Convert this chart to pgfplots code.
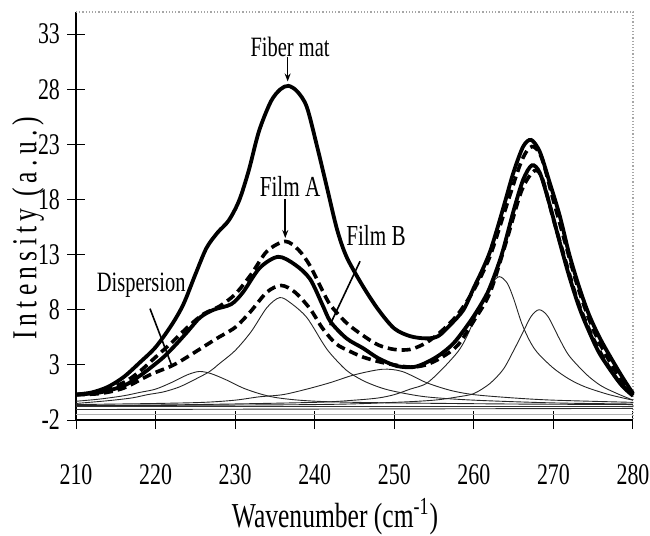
\documentclass[border=0pt]{standalone}
\usepackage{fontspec}
\setmainfont[FakeStretch=0.73]{Liberation Serif}
\usepackage{pgfplots}
\pgfplotsset{compat=1.18}
\usetikzlibrary{arrows.meta}

\begin{document}
\begin{tikzpicture}
\begin{axis}[
  scale only axis, width=278.5pt, height=204pt,
  xmin=210, xmax=280, ymin=-2, ymax=35,
  xtick={210,220,...,280}, ytick={-2,3,...,33},
  axis x line*=bottom, axis y line*=left,
  axis line style={black, line width=0.65pt},
  tick align=center, major tick length=9pt,
  tick style={black, line width=0.5pt},
  clip=false,
  /pgf/number format/assume math mode=true,
  ticklabel style={font=\fontsize{15}{15}\selectfont},
  xticklabel style={yshift=-14pt},
  xlabel={Wavenumber (cm\textsuperscript{-1})},
  xlabel style={at={([yshift=-53.5pt]axis description cs:0.465,0)}, anchor=base,
                font=\fontsize{17.5}{17.5}\selectfont},
  ylabel={Intensity (a.u.)},
  ylabel style={at={([xshift=-24pt]axis description cs:0,0.47)}, anchor=center,
                font=\fontsize{17.5}{17.5}\selectfont\addfontfeature{LetterSpace=15}},
]
% frame top and right
\draw[gray!70, densely dotted, line width=0.6pt] (rel axis cs:0,1) -- (rel axis cs:1,1) -- (rel axis cs:1,0);

% baselines
\addplot[black!80, line width=0.45pt] coordinates {(210,-0.8) (280,-0.8)};
\addplot[black!80, line width=0.45pt] coordinates {(210,-1.05) (280,-0.95)};
\addplot[gray!60, line width=0.6pt] coordinates {(210,-1.5) (280,-1.5)};

% fitted components
\addplot[black!85, line width=0.45pt, smooth] coordinates {
 (210,-0.3) (213,-0.1) (216,0.2) (218,0.5) (220,0.8) (222,1.4) (224,2.1)
 (225.5,2.4) (227,2.2) (229,1.6) (231,0.9) (233,0.4) (235,0.05) (238,-0.2)
 (242,-0.35) (250,-0.45) (265,-0.55) (280,-0.6)};
\addplot[black!85, line width=0.45pt, smooth] coordinates {
 (210,-0.5) (214,-0.25) (217,0.0) (219,0.3) (221,0.55) (223,1.0) (225,1.7)
 (226.8,2.4) (228,3.1) (230,4.3) (232,6.0) (234,8.2) (235.6,9.1) (237,8.6)
 (239,7.3) (241,5.0) (242,4.0) (244,2.5) (246,1.6) (248,1.0) (250,0.6)
 (254,0.1) (260,-0.2) (270,-0.45) (280,-0.55)};
\addplot[black!85, line width=0.45pt, smooth] coordinates {
 (210,-0.6) (220,-0.5) (226,-0.4) (230,-0.2) (233,0.1) (236,0.3) (239,0.8)
 (242,1.4) (245,2.1) (248.5,2.6) (251,2.4) (254,1.4) (257,0.7) (260,0.3)
 (265,0.0) (270,-0.2) (280,-0.4)};
\addplot[black!85, line width=0.45pt, smooth] coordinates {
 (210,-0.7) (225,-0.6) (240,-0.4) (245,-0.2) (248,0.0) (250,0.3) (252,0.8)
 (254,1.3) (256,2.6) (258,4.2) (259,5.4) (260,7.0) (261,8.5) (262.2,10.3)
 (263.2,11.0) (264.2,10.4) (265,9.0) (266,6.8) (267,5.2) (268,4.1) (270,2.7)
 (272,1.7) (274,1.0) (277,0.3) (280,-0.2)};
\addplot[black!85, line width=0.45pt, smooth] coordinates {
 (210,-0.7) (240,-0.6) (250,-0.4) (255,-0.2) (258,0.1) (260,0.4) (262,1.3)
 (263.7,2.6) (265,4.3) (266.2,6.0) (267.2,7.4) (268.2,8.0) (269.3,7.4)
 (270.8,5.3) (272,3.8) (274.2,2.1) (276,1.1) (278,0.4) (280,-0.2)};

% Film A (dashed)
\addplot[black, line width=1.8pt, dash pattern=on 4.5pt off 2.5pt, smooth] coordinates {
 (210,0.3) (213,0.6) (216,1.4) (218,2.4) (220,3.7) (222,5.0) (224,6.4) (226,7.6)
 (228,8.3) (230,9.4) (232,11.2) (234,13.3) (236.3,14.2) (238,13.4) (239.4,12.0)
 (241,9.7) (242,8.4) (244,6.8) (246,5.7) (248,4.8) (250,4.4) (252,4.4) (254,5.0)
 (256,6.1) (258,7.6) (260,9.8) (262,12.8) (264,17.2) (266,21.5) (267.3,22.8)
 (268.5,21.8) (270,17.9) (271.5,14.0) (273,10.2) (274.5,7.1) (276,4.7) (278,2.2)
 (280,0.3)};
% Dispersion (dashed)
\addplot[black, line width=1.8pt, dash pattern=on 4.5pt off 2.5pt, smooth] coordinates {
 (210,0.3) (213,0.4) (216,0.9) (219.3,2.1) (222,2.9) (223.5,3.5) (225.5,4.4)
 (227.7,5.4) (230,6.4) (231.9,7.8) (234,9.6) (235.8,10.2) (237.5,9.6) (239.4,8.1)
 (241,6.3) (242.7,4.9) (244.5,4.2) (246.1,3.7) (248,3.3) (250,3.0) (252,2.8)
 (254,3.0) (256,3.7) (258,4.8) (260,7.0) (262,9.5) (264,14.0) (266,18.8)
 (267.6,20.6) (268.6,19.9) (270,16.2) (271.5,12.5) (273,8.9) (274.5,6.2)
 (276,4.0) (278,1.7) (280,0.2)};
% Film B (solid)
\addplot[black, line width=1.9pt, smooth] coordinates {
 (210,0.3) (213,0.5) (216,1.1) (218,2.0) (219.3,2.7) (221,3.7) (222.5,4.8)
 (224,6.0) (225.6,7.3) (227.3,8.0) (229.5,8.5) (231,9.6) (233.1,11.8) (235.4,12.8)
 (237.5,12.1) (239.4,10.8) (241,8.4) (242,6.9) (244,5.4) (246.1,4.5) (248,3.6)
 (250.3,2.9) (252.4,2.8) (254,3.2) (255.7,3.9) (257.5,5.0) (259.5,6.9) (261,8.6)
 (262,10.0) (263.5,13.0) (265,17.0) (266.2,19.8) (267.3,21.1) (268.3,20.4)
 (269.5,17.6) (270.8,14.1) (272,11.0) (273.3,8.1) (274.5,6.0) (275.9,3.9)
 (278.4,1.3) (280,0.2)};
% Fiber mat (solid)
\addplot[black, line width=1.9pt, smooth] coordinates {
 (210,0.3) (212,0.5) (214,1.0) (216,1.9) (218,3.2) (220,4.6) (222,6.6) (223.5,8.5)
 (225,11.2) (226.4,13.6) (227.8,15.0) (229.2,16.1) (230.5,17.9) (231.7,20.6)
 (233,24.2) (234.5,26.9) (235.7,28.0) (236.7,28.3) (237.8,27.8) (239,26.4)
 (240.3,22.8) (241.5,19.2) (242.8,15.3) (244,12.8) (246,10.2) (248,8.0) (250,6.3)
 (252,5.6) (254,5.4) (255.5,5.6) (257,6.6) (258.7,8.0) (260,10.0) (261,11.5)
 (262,13.2) (263,15.5) (264,18.0) (265,20.5) (266.2,22.8) (267.2,23.4)
 (268.3,22.3) (269.5,19.6) (270.8,16.5) (272,13.0) (273.3,9.9) (274.5,7.5)
 (276,5.2) (278.4,2.2) (280,0.4)};

% annotations
\node[font=\fontsize{14}{14}\selectfont] at (axis cs:236.9,31.8) {Fiber mat};
\draw[-{Stealth[length=4pt,width=3pt]}, line width=0.8pt] (axis cs:236.6,30.9) -- (axis cs:236.6,28.7);
\node[font=\fontsize{14.5}{14.5}\selectfont] at (axis cs:236.9,19.2) {Film A};
\draw[-{Stealth[length=4pt,width=3pt]}, line width=0.8pt] (axis cs:236.3,18.0) -- (axis cs:236.3,14.5);
\node[font=\fontsize{14.5}{14.5}\selectfont] at (axis cs:247.7,14.7) {Film B};
\draw[line width=0.8pt] (axis cs:245.7,12.4) -- (axis cs:241.9,6.6);
\node[font=\fontsize{14}{14}\selectfont] at (axis cs:218.2,10.2) {Dispersion};
\draw[line width=0.8pt] (axis cs:219.3,8.1) -- (axis cs:222.0,3.0);
\end{axis}
\pgfresetboundingbox
\path ([shift={(-38pt,-57.5pt)}]current axis.south west) rectangle ([shift={(8.5pt,6pt)}]current axis.north east);
\end{tikzpicture}
\end{document}
